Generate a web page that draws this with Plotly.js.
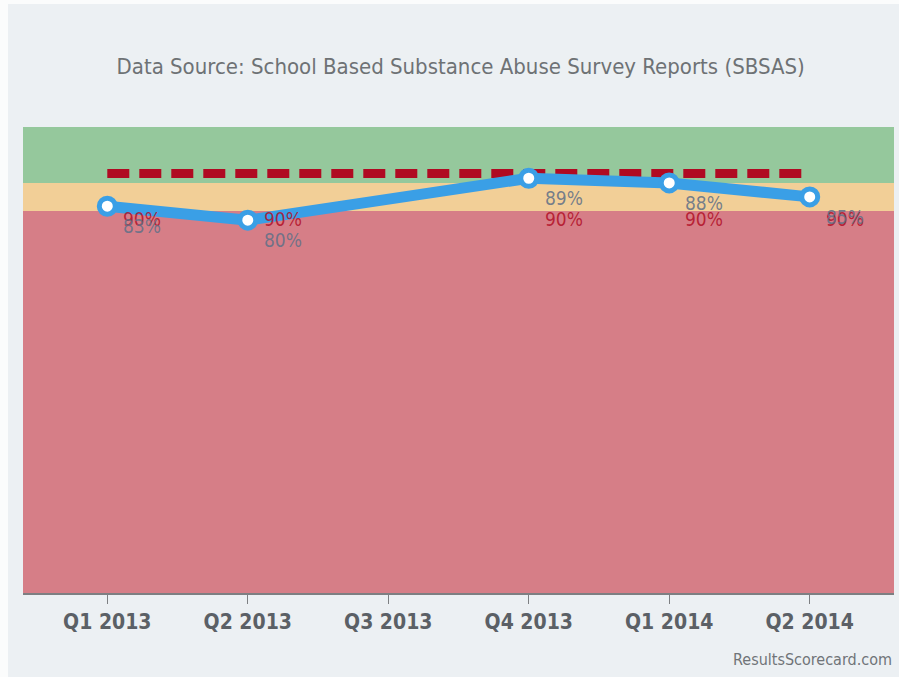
<!DOCTYPE html>
<html>
<head>
<meta charset="utf-8">
<script src="https://cdn.plot.ly/plotly-3.0.1.min.js"></script>
<style>
  html, body { margin: 0; padding: 0; background: #fbfcfc; width: 899px; height: 677px; overflow: hidden; }
  #chart { position: absolute; left: 8px; top: 4px; width: 891px; height: 673px; }
</style>
</head>
<body>
<div id="chart"></div>
<script>
// ---- data ----
const categories = ["Q1 2013", "Q2 2013", "Q3 2013", "Q4 2013", "Q1 2014", "Q2 2014"];
const actualValues = [83, 80, null, 89, 88, 85];
const targetValues = [90, 90, 90, 90, 90, 90];
const bandRedTop = 82;
const bandYellowTop = 88;
const bandGreenTop = 100;
const titleText = "Data Source: School Based Substance Abuse Survey Reports (SBSAS)";
const creditText = "ResultsScorecard.com";

const FONT = "'DejaVu Sans Condensed', 'Liberation Sans Narrow', 'Liberation Sans', sans-serif";

const traces = [
  {
    x: categories, y: targetValues, type: "scatter", mode: "lines",
    line: { color: "#b00a22", width: 9, dash: "22px,10px" },
    hoverinfo: "skip", showlegend: false
  },
  {
    x: categories, y: actualValues, type: "scatter", mode: "lines+markers",
    connectgaps: true,
    line: { color: "#3a9fe6", width: 11 },
    marker: { size: 16, color: "#ffffff", line: { color: "#3a9fe6", width: 5 } },
    hoverinfo: "skip", showlegend: false
  }
];

const annotations = [];
categories.forEach((c, i) => {
  if (actualValues[i] === null) return;
  annotations.push({
    x: c, y: targetValues[i], xref: "x", yref: "y", text: targetValues[i] + "%",
    showarrow: false, xshift: 35, yshift: -45, xanchor: "center", yanchor: "middle",
    font: { family: FONT, size: 19, color: "rgba(178,16,40,0.85)" }
  });
  annotations.push({
    x: c, y: actualValues[i], xref: "x", yref: "y", text: actualValues[i] + "%",
    showarrow: false, xshift: 35, yshift: -20, xanchor: "center", yanchor: "middle",
    font: { family: FONT, size: 19, color: "rgba(95,112,135,0.85)" }
  });
});
annotations.push({
  x: 1, y: -0.1426, xref: "paper", yref: "paper", xanchor: "right", yanchor: "middle",
  text: creditText, showarrow: false,
  font: { family: FONT, size: 16, color: "#707478" }
});

const shapes = [
  { type: "rect", xref: "paper", yref: "y", x0: 0, x1: 1, y0: 0, y1: bandRedTop,
    fillcolor: "#d67e87", line: { width: 0 }, layer: "below" },
  { type: "rect", xref: "paper", yref: "y", x0: 0, x1: 1, y0: bandRedTop, y1: bandYellowTop,
    fillcolor: "#f2cf97", line: { width: 0 }, layer: "below" },
  { type: "rect", xref: "paper", yref: "y", x0: 0, x1: 1, y0: bandYellowTop, y1: bandGreenTop,
    fillcolor: "#95c89c", line: { width: 0 }, layer: "below" }
];

const layout = {
  width: 891, height: 673,
  paper_bgcolor: "#ecf0f3", plot_bgcolor: "#ecf0f3",
  margin: { l: 15, r: 5, t: 123, b: 84 },
  title: {
    text: titleText, xref: "container", x: 0.508, xanchor: "center",
    yref: "container", y: 0.907, yanchor: "middle",
    font: { family: FONT, size: 22, color: "#6e7275" }
  },
  xaxis: {
    type: "category", categoryorder: "array", categoryarray: categories,
    range: [-0.6, 5.6], fixedrange: true,
    showline: true, linecolor: "#7d7f82", linewidth: 2,
    ticks: "outside", ticklen: 9, tickwidth: 1, tickcolor: "#7d7f82",
    showgrid: false, zeroline: false,
    tickfont: { family: FONT, size: 21, color: "#5b6066", weight: "bold" }
  },
  yaxis: {
    range: [0, 100], visible: false, showgrid: false, zeroline: false, fixedrange: true
  },
  shapes: shapes,
  annotations: annotations,
  showlegend: false
};

Plotly.newPlot("chart", traces, layout, { displayModeBar: false, staticPlot: true });
</script>
</body>
</html>
